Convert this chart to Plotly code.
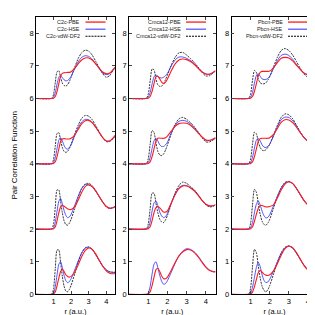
import plotly.graph_objects as go

# ---------------- data ----------------
R = [0.0, 0.9, 1.0, 1.1, 1.2, 1.3, 1.4, 1.5, 1.6, 1.7, 1.8, 1.9, 2.0,
     2.2, 2.4, 2.6, 2.8, 3.0, 3.2, 3.4, 3.6, 3.8, 4.0, 4.2, 4.4, 4.5]
OFFSETS = [0, 2, 4, 6]
PHASES = ["C2c", "Cmca12", "Pbcn"]
METHODS = ["PBE", "HSE", "vdW-DF2"]

# each list: rows for offsets 0, 2, 4, 6 (values before the vertical shift)
C2C_PBE = [
    [0, 0, 0.01, 0.08, 0.27, 0.5, 0.7, 0.77, 0.7, 0.6, 0.55, 0.53, 0.55, 0.68, 0.9, 1.15, 1.34, 1.42, 1.38, 1.24, 1.05, 0.86, 0.72, 0.65, 0.63, 0.64],
    [0, 0, 0.01, 0.07, 0.26, 0.5, 0.68, 0.72, 0.7, 0.66, 0.62, 0.6, 0.6, 0.68, 0.88, 1.12, 1.3, 1.35, 1.3, 1.17, 1.0, 0.83, 0.7, 0.64, 0.65, 0.69],
    [0, 0, 0.01, 0.06, 0.22, 0.45, 0.68, 0.76, 0.77, 0.76, 0.76, 0.76, 0.78, 0.88, 1.05, 1.22, 1.32, 1.33, 1.26, 1.12, 0.96, 0.8, 0.7, 0.7, 0.8, 0.87],
    [0, 0, 0.01, 0.06, 0.22, 0.45, 0.68, 0.77, 0.79, 0.79, 0.8, 0.8, 0.82, 0.92, 1.06, 1.18, 1.24, 1.24, 1.18, 1.06, 0.93, 0.81, 0.76, 0.78, 0.89, 0.95],
]
C2C_HSE = [
    [0, 0, 0.04, 0.24, 0.6, 0.92, 1.0, 0.82, 0.58, 0.42, 0.36, 0.39, 0.48, 0.74, 1.02, 1.27, 1.42, 1.45, 1.38, 1.22, 1.04, 0.87, 0.75, 0.69, 0.67, 0.67],
    [0, 0, 0.04, 0.22, 0.55, 0.85, 0.94, 0.78, 0.57, 0.42, 0.35, 0.37, 0.45, 0.72, 1.0, 1.24, 1.36, 1.36, 1.3, 1.16, 0.99, 0.83, 0.69, 0.64, 0.66, 0.69],
    [0, 0, 0.04, 0.19, 0.47, 0.72, 0.8, 0.7, 0.56, 0.47, 0.45, 0.5, 0.58, 0.85, 1.1, 1.28, 1.36, 1.35, 1.26, 1.12, 0.96, 0.8, 0.7, 0.7, 0.78, 0.84],
    [0, 0, 0.04, 0.18, 0.44, 0.65, 0.71, 0.64, 0.57, 0.54, 0.55, 0.6, 0.68, 0.9, 1.12, 1.26, 1.31, 1.29, 1.2, 1.06, 0.91, 0.78, 0.73, 0.76, 0.87, 0.93],
]
C2C_VDW = [
    [0, 0.01, 0.18, 0.8, 1.36, 1.36, 0.98, 0.55, 0.25, 0.1, 0.08, 0.15, 0.28, 0.62, 0.98, 1.26, 1.42, 1.45, 1.38, 1.22, 1.04, 0.87, 0.75, 0.69, 0.68, 0.68],
    [0, 0.01, 0.16, 0.68, 1.2, 1.2, 0.85, 0.5, 0.25, 0.14, 0.12, 0.18, 0.3, 0.62, 0.97, 1.24, 1.38, 1.4, 1.33, 1.18, 1.0, 0.82, 0.68, 0.63, 0.66, 0.7],
    [0, 0.01, 0.14, 0.55, 0.93, 0.95, 0.72, 0.5, 0.38, 0.35, 0.38, 0.47, 0.6, 0.9, 1.18, 1.39, 1.48, 1.46, 1.35, 1.17, 0.98, 0.8, 0.68, 0.68, 0.78, 0.85],
    [0, 0.01, 0.13, 0.5, 0.82, 0.85, 0.65, 0.47, 0.4, 0.38, 0.42, 0.52, 0.65, 0.95, 1.22, 1.4, 1.48, 1.45, 1.33, 1.14, 0.94, 0.76, 0.65, 0.7, 0.88, 0.96],
]
CMCA_PBE = [
    [0, 0, 0.01, 0.08, 0.27, 0.52, 0.75, 0.8, 0.7, 0.56, 0.48, 0.48, 0.53, 0.74, 0.98, 1.18, 1.3, 1.37, 1.36, 1.28, 1.15, 0.98, 0.83, 0.73, 0.69, 0.69],
    [0, 0, 0.01, 0.07, 0.26, 0.5, 0.66, 0.69, 0.65, 0.58, 0.52, 0.52, 0.56, 0.8, 1.05, 1.24, 1.32, 1.32, 1.26, 1.17, 1.03, 0.88, 0.76, 0.71, 0.72, 0.75],
    [0, 0, 0.01, 0.06, 0.22, 0.45, 0.68, 0.78, 0.79, 0.78, 0.78, 0.8, 0.85, 1.0, 1.15, 1.23, 1.25, 1.24, 1.18, 1.07, 0.94, 0.82, 0.73, 0.72, 0.77, 0.8],
    [0, 0, 0.01, 0.06, 0.22, 0.45, 0.66, 0.68, 0.6, 0.5, 0.45, 0.5, 0.6, 0.85, 1.06, 1.18, 1.21, 1.19, 1.13, 1.04, 0.92, 0.81, 0.75, 0.75, 0.81, 0.85],
]
CMCA_HSE = [
    [0, 0, 0.04, 0.24, 0.62, 0.92, 1.0, 0.82, 0.58, 0.4, 0.31, 0.33, 0.42, 0.68, 0.95, 1.18, 1.33, 1.4, 1.38, 1.3, 1.17, 1.0, 0.85, 0.74, 0.7, 0.7],
    [0, 0, 0.04, 0.22, 0.55, 0.8, 0.86, 0.72, 0.52, 0.4, 0.35, 0.38, 0.48, 0.8, 1.08, 1.27, 1.34, 1.33, 1.27, 1.18, 1.04, 0.88, 0.76, 0.71, 0.72, 0.75],
    [0, 0, 0.04, 0.19, 0.47, 0.7, 0.78, 0.7, 0.58, 0.53, 0.53, 0.58, 0.66, 0.95, 1.18, 1.3, 1.33, 1.3, 1.22, 1.1, 0.96, 0.82, 0.72, 0.71, 0.76, 0.79],
    [0, 0, 0.04, 0.18, 0.44, 0.66, 0.72, 0.68, 0.64, 0.63, 0.65, 0.7, 0.77, 1.0, 1.18, 1.27, 1.27, 1.23, 1.16, 1.06, 0.94, 0.82, 0.75, 0.74, 0.8, 0.84],
]
CMCA_VDW = [
    None,
    [0, 0.01, 0.15, 0.62, 1.1, 1.1, 0.8, 0.5, 0.3, 0.22, 0.2, 0.28, 0.42, 0.78, 1.1, 1.34, 1.44, 1.4, 1.3, 1.2, 1.05, 0.88, 0.74, 0.68, 0.7, 0.74],
    [0, 0.01, 0.15, 0.6, 1.02, 0.96, 0.65, 0.38, 0.27, 0.25, 0.3, 0.42, 0.58, 0.92, 1.2, 1.38, 1.42, 1.36, 1.26, 1.13, 0.97, 0.8, 0.67, 0.67, 0.74, 0.78],
    [0, 0.01, 0.13, 0.53, 0.9, 0.88, 0.6, 0.42, 0.37, 0.38, 0.45, 0.58, 0.72, 1.02, 1.26, 1.4, 1.41, 1.33, 1.22, 1.1, 0.96, 0.8, 0.69, 0.7, 0.8, 0.85],
]
PBCN_PBE = [
    [0, 0, 0.01, 0.07, 0.24, 0.45, 0.66, 0.73, 0.68, 0.62, 0.59, 0.58, 0.6, 0.72, 0.94, 1.2, 1.4, 1.48, 1.43, 1.28, 1.08, 0.88, 0.74, 0.67, 0.65, 0.66],
    [0, 0, 0.01, 0.07, 0.24, 0.45, 0.64, 0.72, 0.72, 0.7, 0.68, 0.68, 0.69, 0.74, 0.95, 1.2, 1.38, 1.45, 1.4, 1.25, 1.06, 0.87, 0.74, 0.71, 0.71, 0.73],
    [0, 0, 0.01, 0.06, 0.22, 0.45, 0.68, 0.77, 0.78, 0.78, 0.78, 0.78, 0.8, 0.9, 1.08, 1.27, 1.35, 1.34, 1.26, 1.12, 0.95, 0.8, 0.7, 0.71, 0.8, 0.86],
    [0, 0, 0.01, 0.06, 0.22, 0.45, 0.68, 0.8, 0.83, 0.83, 0.83, 0.83, 0.84, 0.94, 1.1, 1.23, 1.26, 1.24, 1.15, 1.02, 0.89, 0.78, 0.74, 0.77, 0.9, 0.96],
]
PBCN_HSE = [
    [0, 0, 0.04, 0.22, 0.52, 0.82, 0.98, 0.85, 0.6, 0.43, 0.36, 0.38, 0.46, 0.72, 1.0, 1.26, 1.43, 1.48, 1.42, 1.26, 1.07, 0.89, 0.76, 0.7, 0.68, 0.68],
    [0, 0, 0.04, 0.2, 0.5, 0.76, 0.86, 0.74, 0.55, 0.41, 0.34, 0.36, 0.44, 0.72, 1.0, 1.25, 1.41, 1.45, 1.39, 1.24, 1.05, 0.87, 0.74, 0.7, 0.7, 0.72],
    [0, 0, 0.04, 0.2, 0.48, 0.72, 0.78, 0.7, 0.58, 0.51, 0.5, 0.53, 0.6, 0.85, 1.13, 1.35, 1.43, 1.42, 1.32, 1.15, 0.96, 0.8, 0.7, 0.7, 0.79, 0.85],
    [0, 0, 0.04, 0.19, 0.47, 0.7, 0.76, 0.68, 0.6, 0.58, 0.58, 0.62, 0.68, 0.92, 1.16, 1.32, 1.36, 1.32, 1.2, 1.04, 0.89, 0.77, 0.72, 0.75, 0.88, 0.94],
]
PBCN_VDW = [
    [0, 0.01, 0.2, 0.85, 1.38, 1.28, 0.88, 0.5, 0.25, 0.12, 0.08, 0.14, 0.27, 0.62, 0.98, 1.27, 1.44, 1.48, 1.42, 1.26, 1.07, 0.89, 0.76, 0.7, 0.68, 0.68],
    [0, 0.01, 0.18, 0.74, 1.22, 1.13, 0.78, 0.45, 0.24, 0.14, 0.12, 0.18, 0.3, 0.65, 1.0, 1.27, 1.43, 1.46, 1.4, 1.24, 1.05, 0.87, 0.74, 0.7, 0.7, 0.72],
    [0, 0.01, 0.15, 0.6, 0.97, 0.92, 0.68, 0.5, 0.42, 0.4, 0.43, 0.5, 0.6, 0.88, 1.18, 1.42, 1.53, 1.5, 1.38, 1.18, 0.97, 0.8, 0.67, 0.66, 0.78, 0.85],
    [0, 0.01, 0.14, 0.56, 0.86, 0.8, 0.6, 0.48, 0.45, 0.45, 0.48, 0.56, 0.67, 0.97, 1.26, 1.47, 1.53, 1.47, 1.33, 1.13, 0.92, 0.75, 0.65, 0.68, 0.88, 0.96],
]

X_TICKS = [1, 2, 3, 4]
Y_TICKS = [0, 1, 2, 3, 4, 5, 6, 7, 8]

# ---------------- style / layout ----------------
W = H = 315
FONT = "Liberation Sans, Arial, sans-serif"
PANEL_PX = [(28, 107), (121, 207.5), (223.5, 309.5)]
Y_TOP_PX, Y_BOT_PX = 9, 291
STYLES = {
    "PBE": dict(color="#ff1a1a", width=1.1, dash="solid"),
    "HSE": dict(color="#2a2aff", width=0.8, dash="solid"),
    "vdW-DF2": dict(color="#000000", width=0.8, dash="2px,1px"),
}
DATA = [
    {"PBE": C2C_PBE, "HSE": C2C_HSE, "vdW-DF2": C2C_VDW},
    {"PBE": CMCA_PBE, "HSE": CMCA_HSE, "vdW-DF2": CMCA_VDW},
    {"PBE": PBCN_PBE, "HSE": PBCN_HSE, "vdW-DF2": PBCN_VDW},
]

fig = go.Figure()
for p, phase in enumerate(PHASES):
    xa = "x" if p == 0 else f"x{p+1}"
    ya = "y" if p == 0 else f"y{p+1}"
    for m in ["vdW-DF2", "HSE", "PBE"]:
        st = STYLES[m]
        for k, off in enumerate(OFFSETS):
            row = DATA[p][m][k]
            if row is None:
                continue
            fig.add_trace(go.Scatter(
                x=R, y=[v + off for v in row], xaxis=xa, yaxis=ya,
                mode="lines", showlegend=False, hoverinfo="skip",
                line=dict(color=st["color"], width=st["width"], dash=st["dash"],
                          shape="spline", smoothing=0.7)))

ydom = [1 - Y_BOT_PX / H, 1 - Y_TOP_PX / H]
layout = dict(
    width=W, height=H, margin=dict(l=0, r=0, t=0, b=0),
    paper_bgcolor="white", plot_bgcolor="white",
    font=dict(family=FONT, size=7, color="black"),
    showlegend=False,
)
annotations = []
shapes = []
for p, phase in enumerate(PHASES):
    x0, x1 = PANEL_PX[p]
    sfx = "" if p == 0 else str(p + 1)
    layout["xaxis" + sfx] = dict(
        domain=[x0 / W, x1 / W], range=[0, 4.5], anchor="y" + sfx,
        tickvals=X_TICKS, ticks="inside", ticklen=3, tickwidth=0.8,
        showline=True, mirror="ticks", linecolor="black", linewidth=0.8,
        showgrid=False, zeroline=False, tickfont=dict(size=7.5, family=FONT),
        title=dict(text="r (a.u.)", font=dict(size=7.5, family=FONT), standoff=3),
    )
    layout["yaxis" + sfx] = dict(
        domain=ydom, range=[0, 8.5], anchor="x" + sfx,
        tickvals=Y_TICKS, ticks="inside", ticklen=3, tickwidth=0.8,
        showline=True, mirror="ticks", linecolor="black", linewidth=0.8,
        showgrid=False, zeroline=False, tickfont=dict(size=7.5, family=FONT),
    )
    # legend (gnuplot style: text then sample line)
    for i, m in enumerate(METHODS):
        yy = 1 - (14.3 + 7.2 * i) / H
        samp_r = x1 - 9.5
        samp_l = samp_r - 20
        annotations.append(dict(
            x=(samp_l - 3.5) / W, y=yy, xref="paper", yref="paper",
            text=f"{phase}-{m}", showarrow=False, xanchor="right", yanchor="middle",
            font=dict(size=5.4, family=FONT, color="#222222")))
        st = STYLES[m]
        shapes.append(dict(
            type="line", xref="paper", yref="paper",
            x0=samp_l / W, x1=samp_r / W, y0=yy, y1=yy,
            line=dict(color=st["color"], width=st["width"] + 0.2, dash=st["dash"])))

annotations.append(dict(
    x=7 / W, y=(ydom[0] + ydom[1]) / 2, xref="paper", yref="paper",
    text="Pair Correlation Function", textangle=-90, showarrow=False,
    xanchor="center", yanchor="middle", font=dict(size=8, family=FONT)))
layout["annotations"] = annotations
layout["shapes"] = shapes
fig.update_layout(**layout)
fig.write_html("out.html")
